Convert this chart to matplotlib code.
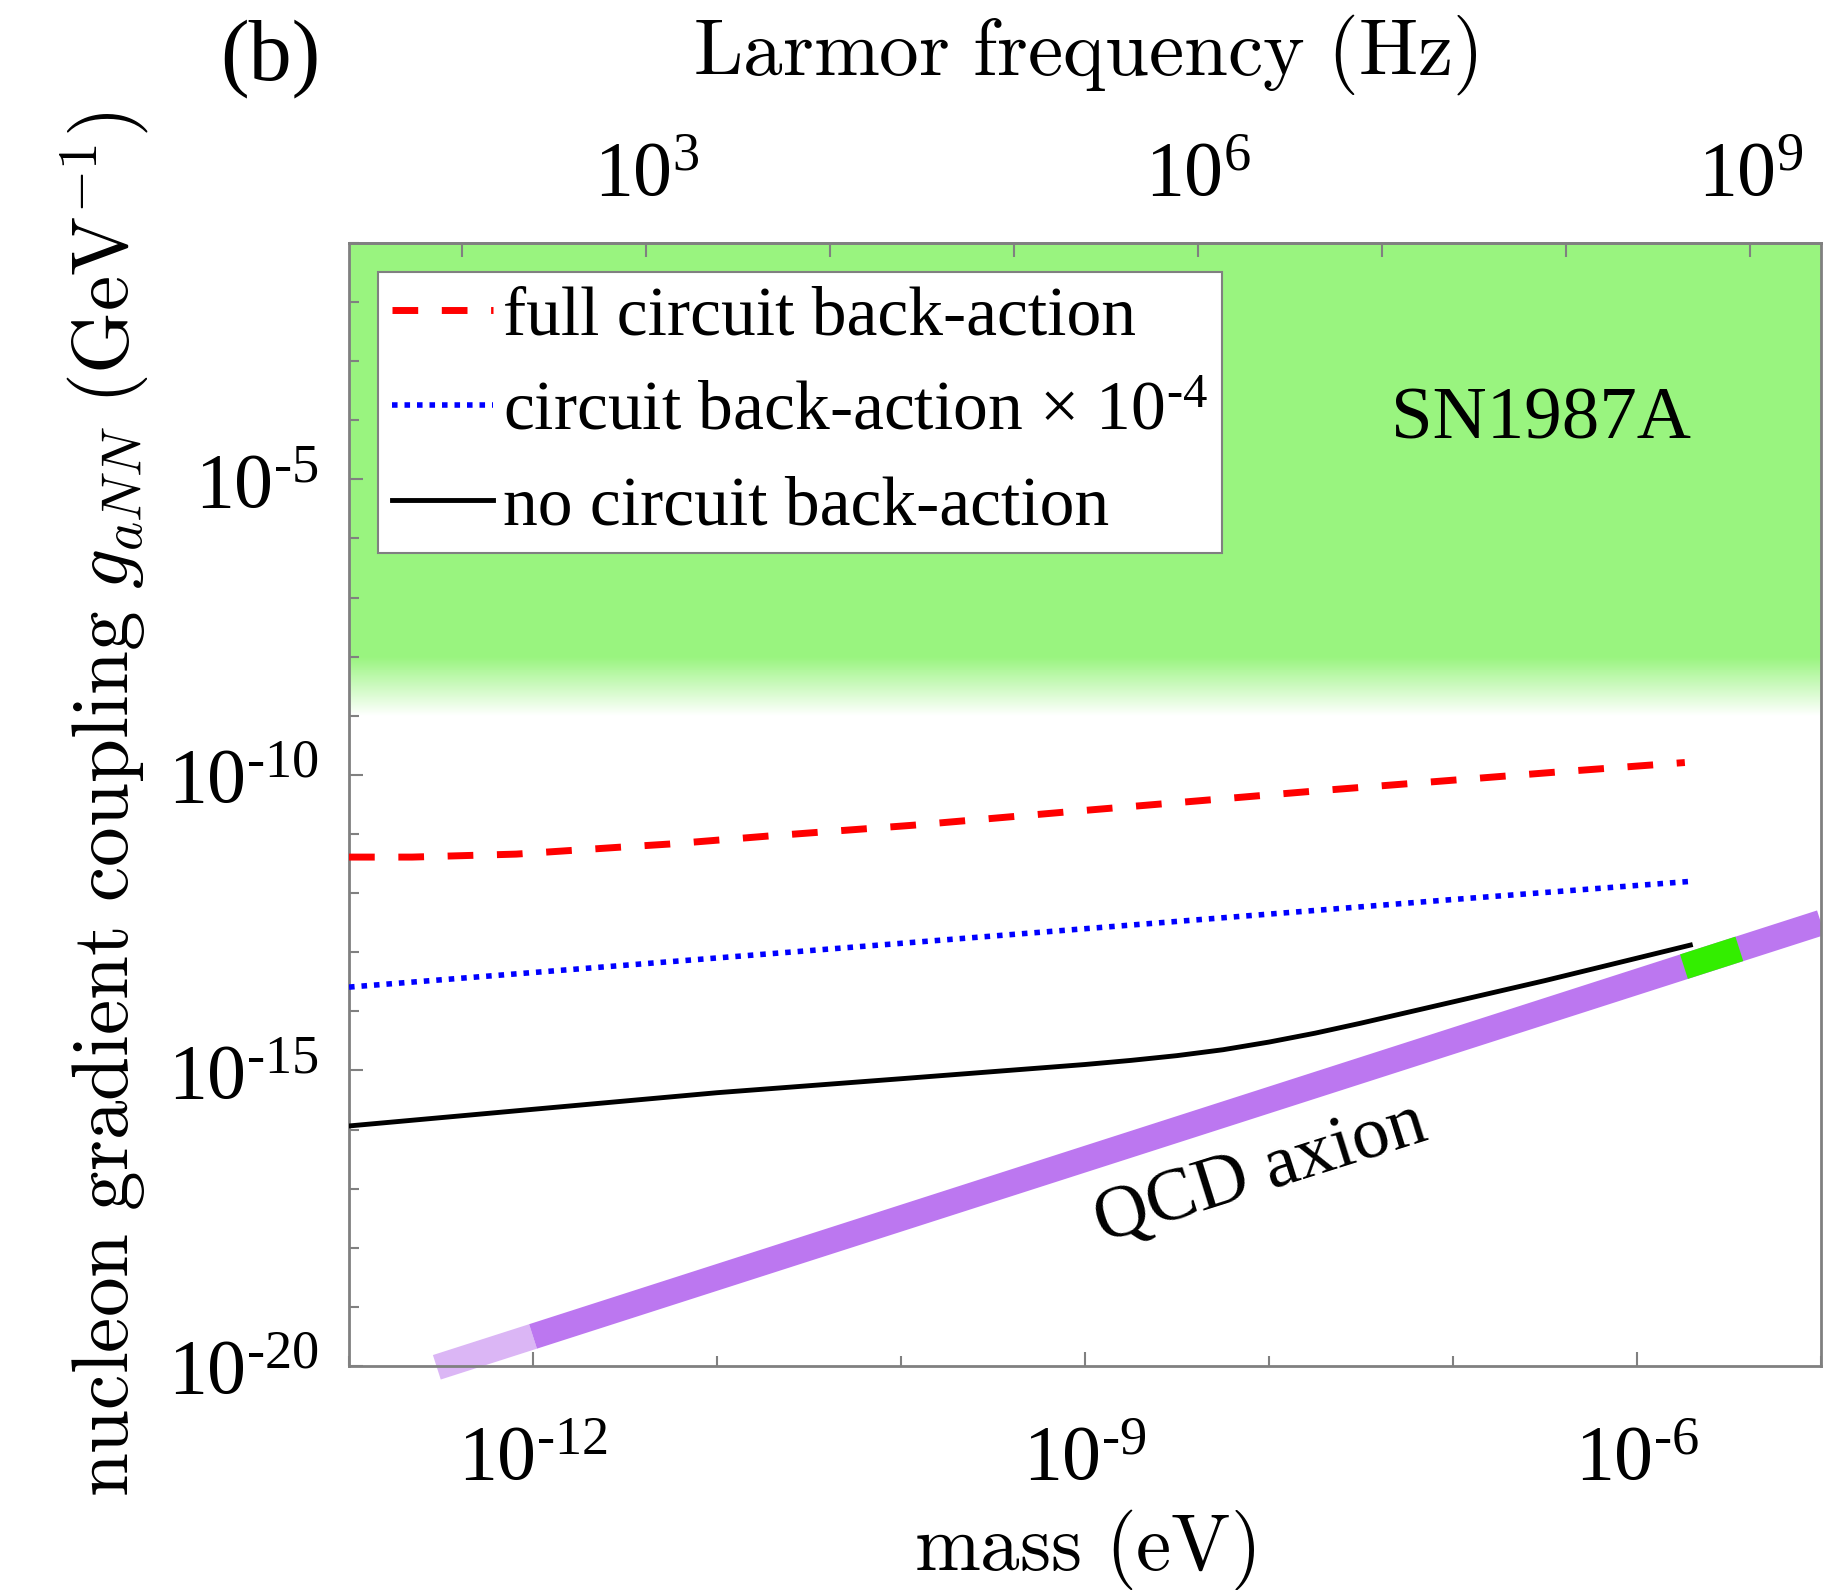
import numpy as np
import matplotlib
matplotlib.use("Agg")
import matplotlib.pyplot as plt
from matplotlib.ticker import FixedLocator, NullFormatter

plt.rcParams['font.family'] = ['Liberation Serif', 'DejaVu Serif']
plt.rcParams['mathtext.fontset'] = 'custom'
plt.rcParams['mathtext.rm'] = 'Liberation Serif'
plt.rcParams['mathtext.it'] = 'Liberation Serif:italic'

# ---------------- data ----------------
mass_full = [1e-13, 2.2e-13, 8.1e-13, 3e-12, 5.5e-12, 1.95e-11, 1.17e-10, 9.1e-10, 1.86e-8, 3.7e-7, 1.82e-6]
g_full = [4.07e-12, 4.07e-12, 4.57e-12, 6.0e-12, 6.76e-12, 9.3e-12, 1.41e-11, 2.45e-11, 5.4e-11, 1.12e-10, 1.62e-10]

mass_scaled = [1e-13, 1e-11, 1e-9, 1e-7, 1.95e-6]
g_scaled = [2.57e-14, 8.0e-14, 2.5e-13, 7.8e-13, 1.58e-12]

mass_none = [1e-13, 1e-12, 1e-11, 1e-10, 1e-9, 1.78e-9, 3.16e-9, 5.62e-9, 1e-8, 1.78e-8,
             3.16e-8, 5.62e-8, 1e-7, 3.16e-7, 1e-6, 1.95e-6]
g_none = [1.15e-16, 2.2e-16, 4.2e-16, 7.24e-16, 1.26e-15, 1.48e-15, 1.78e-15, 2.24e-15, 3.02e-15, 4.27e-15,
          6.31e-15, 9.55e-15, 1.445e-14, 3.31e-14, 7.94e-14, 1.32e-13]

qcd_mass_light = [3e-13, 1e-12]
qcd_g_light = [9.5e-21, 3.16e-20]
qcd_mass = [1e-12, 1e-5]
qcd_g = [3.16e-20, 3.16e-13]
qcd_mass_green = [1.8e-6, 3.6e-6]
qcd_g_green = [5.7e-14, 1.14e-13]

sn_solid_edge = 1e-8
sn_fade_edge = 1e-9
sn_top = 1e-1

xlim = (1e-13, 1e-5)
ylim = (1e-20, 1e-1)
ev_to_hz = 2.418e14

xtick_vals = [1e-12, 1e-9, 1e-6]
xtick_labels = [r'10$^{\text{-}12}$', r'10$^{\text{-}9}$', r'10$^{\text{-}6}$']
ytick_vals = [1e-20, 1e-15, 1e-10, 1e-5]
ytick_labels = [r'10$^{\text{-}20}$', r'10$^{\text{-}15}$', r'10$^{\text{-}10}$', r'10$^{\text{-}5}$']
ftick_vals = [1e3, 1e6, 1e9]
ftick_labels = ['10$^{3}$', '10$^{6}$', '10$^{9}$']

legend_labels = ['full circuit back-action',
                 'circuit back-action \u00d7 10' + r'$^{\text{-}4}$',
                 'no circuit back-action']

# ---------------- figure ----------------
fig = plt.figure(figsize=(18.39, 15.90), dpi=100)
ax = fig.add_axes([0.1898, 0.1409, 0.8004, 0.7063])
ax.set_xscale('log')
ax.set_yscale('log')
ax.set_xlim(*xlim)
ax.set_ylim(*ylim)

sn_green = np.array([0.60, 0.957, 0.498])
white = np.array([1.0, 1.0, 1.0])
ax.axhspan(sn_solid_edge, sn_top, color=sn_green, lw=0, zorder=0)
n = 60
edges = np.logspace(np.log10(sn_fade_edge), np.log10(sn_solid_edge), n + 1)
for i in range(n):
    t = (i + 0.5) / n
    c = white + (sn_green - white) * t
    ax.axhspan(edges[i], edges[i + 1], color=c, lw=0, zorder=0)

# QCD axion band
ax.plot(qcd_mass_light, qcd_g_light, color='#dbb6f5', lw=18.5,
        solid_capstyle='butt', clip_on=False, zorder=2)
ax.plot(qcd_mass, qcd_g, color='#bc77f0', lw=18.5,
        solid_capstyle='butt', zorder=2)
ax.plot(qcd_mass_green, qcd_g_green, color='#33ee00', lw=18.5,
        solid_capstyle='butt', zorder=2.1)

l1, = ax.plot(mass_full, g_full, color='red', lw=5, linestyle=(0, (3.7, 3.4)), zorder=3)
l2, = ax.plot(mass_scaled, g_scaled, color='blue', lw=4, linestyle=(0, (1, 1.25)), zorder=3)
l3, = ax.plot(mass_none, g_none, color='black', lw=3.5, zorder=3)

leg = ax.legend([l1, l2, l3], legend_labels, loc='upper left',
                bbox_to_anchor=(0.0197, 0.974), borderaxespad=0,
                fontsize=50, handlelength=1.45, handletextpad=0.15,
                borderpad=0.2, labelspacing=0.45, fancybox=False,
                framealpha=1, edgecolor='#808080')
leg.get_frame().set_linewidth(1.5)

ax.text(3e-7, 1.0e-4, 'SN1987A', fontsize=54, ha='center', va='center', zorder=4)
ax.text(9e-9, 1.8e-17, 'QCD axion', fontsize=54, ha='center', va='center',
        rotation=17.5, rotation_mode='anchor', zorder=4)

spine_c = '#808080'
for s in ax.spines.values():
    s.set_color(spine_c)
    s.set_linewidth(2)

ax.xaxis.set_major_locator(FixedLocator(xtick_vals))
ax.set_xticklabels(xtick_labels)
ax.xaxis.set_minor_locator(FixedLocator([10.0 ** k for k in range(-13, -4)]))
ax.xaxis.set_minor_formatter(NullFormatter())
ax.yaxis.set_major_locator(FixedLocator(ytick_vals))
ax.set_yticklabels(ytick_labels)
ax.yaxis.set_minor_locator(FixedLocator([10.0 ** k for k in range(-20, 0)]))
ax.yaxis.set_minor_formatter(NullFormatter())
ax.tick_params(which='both', direction='in', color=spine_c, width=1.5,
               labelsize=56, top=False, right=False)
ax.tick_params(which='major', length=10)
ax.tick_params(which='minor', length=7)
ax.tick_params(axis='x', pad=42)
ax.tick_params(axis='y', pad=22)

sec = ax.secondary_xaxis('top', functions=(lambda m: m * ev_to_hz, lambda f: f / ev_to_hz))
sec.set_xscale('log')
sec.xaxis.set_major_locator(FixedLocator(ftick_vals))
sec.set_xticklabels(ftick_labels)
sec.xaxis.set_minor_locator(FixedLocator([10.0 ** k for k in range(0, 10)]))
sec.xaxis.set_minor_formatter(NullFormatter())
sec.tick_params(which='both', direction='in', color=spine_c, width=1.5, labelsize=56, pad=22)
sec.tick_params(which='major', length=10)
sec.tick_params(which='minor', length=10)
sec.spines['top'].set_color(spine_c)
sec.spines['top'].set_linewidth(2)
sec.set_xlabel(r'$\mathrm{Larmor\ frequency\ (Hz)}$', fontsize=57, math_fontfamily='cm', labelpad=48)

ax.set_xlabel(r'$\mathrm{mass\ (eV)}$', fontsize=57, math_fontfamily='cm', labelpad=8)
ax.set_ylabel(r'$\mathrm{nucleon\ gradient\ coupling}\ g_{aNN}\ \mathrm{(GeV^{-1})}$',
              fontsize=57, math_fontfamily='cm', labelpad=12)

fig.text(0.147, 0.963, '(b)', fontsize=62, ha='center', va='center')

fig.savefig('out.png', dpi=100)
